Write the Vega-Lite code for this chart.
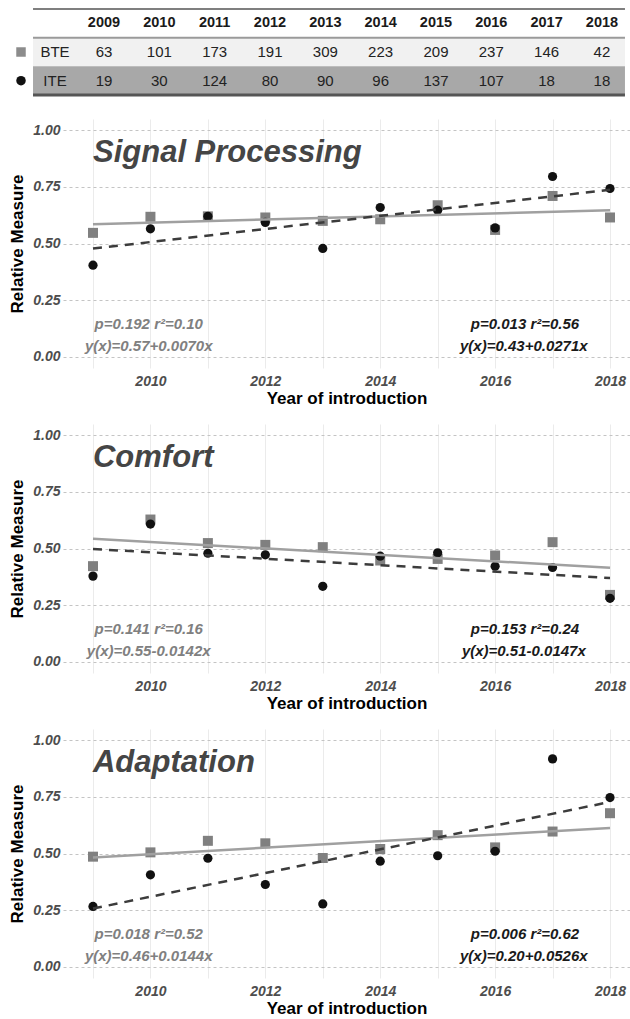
{
  "$schema": "https://vega.github.io/schema/vega-lite/v6.json",
  "padding": {"left": 8, "top": 8, "right": 0, "bottom": 0},
  "background": "#ffffff",
  "spacing": 18,
  "config": {
    "font": "Liberation Sans",
    "view": {"stroke": null},
    "axisX": {
      "labelFont": "Liberation Sans", "labelFontSize": 14, "labelFontStyle": "italic", "labelFontWeight": "bold",
      "labelColor": "#4d4d4d", "labelPadding": 6, "ticks": false, "domain": false,
      "titleFont": "Liberation Sans", "titleFontSize": 17, "titleFontWeight": "bold", "titleColor": "#000000", "titlePadding": 2,
      "gridColor": "#ebebeb", "gridWidth": 1
    },
    "axisY": {
      "labelFont": "Liberation Sans", "labelFontSize": 14, "labelFontStyle": "italic", "labelFontWeight": "bold",
      "labelColor": "#4d4d4d", "labelPadding": 3, "ticks": false, "domain": false,
      "titleFont": "Liberation Sans", "titleFontSize": 17, "titleFontWeight": "bold", "titleColor": "#000000", "titlePadding": 6
    }
  },
  "datasets": {
    "counts": [
      {"row": "BTE", "year": 2009, "n": 63}, {"row": "BTE", "year": 2010, "n": 101}, {"row": "BTE", "year": 2011, "n": 173},
      {"row": "BTE", "year": 2012, "n": 191}, {"row": "BTE", "year": 2013, "n": 309}, {"row": "BTE", "year": 2014, "n": 223},
      {"row": "BTE", "year": 2015, "n": 209}, {"row": "BTE", "year": 2016, "n": 237}, {"row": "BTE", "year": 2017, "n": 146},
      {"row": "BTE", "year": 2018, "n": 42},
      {"row": "ITE", "year": 2009, "n": 19}, {"row": "ITE", "year": 2010, "n": 30}, {"row": "ITE", "year": 2011, "n": 124},
      {"row": "ITE", "year": 2012, "n": 80}, {"row": "ITE", "year": 2013, "n": 90}, {"row": "ITE", "year": 2014, "n": 96},
      {"row": "ITE", "year": 2015, "n": 137}, {"row": "ITE", "year": 2016, "n": 107}, {"row": "ITE", "year": 2017, "n": 18},
      {"row": "ITE", "year": 2018, "n": 18}
    ],
    "pts": [
      {"panel": "Signal Processing", "group": "BTE", "year": 2009, "value": 0.547},
      {"panel": "Signal Processing", "group": "BTE", "year": 2010, "value": 0.618},
      {"panel": "Signal Processing", "group": "BTE", "year": 2011, "value": 0.620},
      {"panel": "Signal Processing", "group": "BTE", "year": 2012, "value": 0.615},
      {"panel": "Signal Processing", "group": "BTE", "year": 2013, "value": 0.600},
      {"panel": "Signal Processing", "group": "BTE", "year": 2014, "value": 0.607},
      {"panel": "Signal Processing", "group": "BTE", "year": 2015, "value": 0.669},
      {"panel": "Signal Processing", "group": "BTE", "year": 2016, "value": 0.560},
      {"panel": "Signal Processing", "group": "BTE", "year": 2017, "value": 0.710},
      {"panel": "Signal Processing", "group": "BTE", "year": 2018, "value": 0.615},
      {"panel": "Signal Processing", "group": "ITE", "year": 2009, "value": 0.404},
      {"panel": "Signal Processing", "group": "ITE", "year": 2010, "value": 0.565},
      {"panel": "Signal Processing", "group": "ITE", "year": 2011, "value": 0.620},
      {"panel": "Signal Processing", "group": "ITE", "year": 2012, "value": 0.593},
      {"panel": "Signal Processing", "group": "ITE", "year": 2013, "value": 0.478},
      {"panel": "Signal Processing", "group": "ITE", "year": 2014, "value": 0.659},
      {"panel": "Signal Processing", "group": "ITE", "year": 2015, "value": 0.647},
      {"panel": "Signal Processing", "group": "ITE", "year": 2016, "value": 0.569},
      {"panel": "Signal Processing", "group": "ITE", "year": 2017, "value": 0.796},
      {"panel": "Signal Processing", "group": "ITE", "year": 2018, "value": 0.743},
      {"panel": "Comfort", "group": "BTE", "year": 2009, "value": 0.422},
      {"panel": "Comfort", "group": "BTE", "year": 2010, "value": 0.628},
      {"panel": "Comfort", "group": "BTE", "year": 2011, "value": 0.524},
      {"panel": "Comfort", "group": "BTE", "year": 2012, "value": 0.516},
      {"panel": "Comfort", "group": "BTE", "year": 2013, "value": 0.506},
      {"panel": "Comfort", "group": "BTE", "year": 2014, "value": 0.447},
      {"panel": "Comfort", "group": "BTE", "year": 2015, "value": 0.454},
      {"panel": "Comfort", "group": "BTE", "year": 2016, "value": 0.469},
      {"panel": "Comfort", "group": "BTE", "year": 2017, "value": 0.528},
      {"panel": "Comfort", "group": "BTE", "year": 2018, "value": 0.295},
      {"panel": "Comfort", "group": "ITE", "year": 2009, "value": 0.378},
      {"panel": "Comfort", "group": "ITE", "year": 2010, "value": 0.608},
      {"panel": "Comfort", "group": "ITE", "year": 2011, "value": 0.479},
      {"panel": "Comfort", "group": "ITE", "year": 2012, "value": 0.472},
      {"panel": "Comfort", "group": "ITE", "year": 2013, "value": 0.333},
      {"panel": "Comfort", "group": "ITE", "year": 2014, "value": 0.466},
      {"panel": "Comfort", "group": "ITE", "year": 2015, "value": 0.481},
      {"panel": "Comfort", "group": "ITE", "year": 2016, "value": 0.422},
      {"panel": "Comfort", "group": "ITE", "year": 2017, "value": 0.416},
      {"panel": "Comfort", "group": "ITE", "year": 2018, "value": 0.280},
      {"panel": "Adaptation", "group": "BTE", "year": 2009, "value": 0.486},
      {"panel": "Adaptation", "group": "BTE", "year": 2010, "value": 0.505},
      {"panel": "Adaptation", "group": "BTE", "year": 2011, "value": 0.556},
      {"panel": "Adaptation", "group": "BTE", "year": 2012, "value": 0.545},
      {"panel": "Adaptation", "group": "BTE", "year": 2013, "value": 0.480},
      {"panel": "Adaptation", "group": "BTE", "year": 2014, "value": 0.520},
      {"panel": "Adaptation", "group": "BTE", "year": 2015, "value": 0.581},
      {"panel": "Adaptation", "group": "BTE", "year": 2016, "value": 0.527},
      {"panel": "Adaptation", "group": "BTE", "year": 2017, "value": 0.597},
      {"panel": "Adaptation", "group": "BTE", "year": 2018, "value": 0.678},
      {"panel": "Adaptation", "group": "ITE", "year": 2009, "value": 0.266},
      {"panel": "Adaptation", "group": "ITE", "year": 2010, "value": 0.406},
      {"panel": "Adaptation", "group": "ITE", "year": 2011, "value": 0.479},
      {"panel": "Adaptation", "group": "ITE", "year": 2012, "value": 0.363},
      {"panel": "Adaptation", "group": "ITE", "year": 2013, "value": 0.277},
      {"panel": "Adaptation", "group": "ITE", "year": 2014, "value": 0.466},
      {"panel": "Adaptation", "group": "ITE", "year": 2015, "value": 0.490},
      {"panel": "Adaptation", "group": "ITE", "year": 2016, "value": 0.510},
      {"panel": "Adaptation", "group": "ITE", "year": 2017, "value": 0.918},
      {"panel": "Adaptation", "group": "ITE", "year": 2018, "value": 0.747}
    ],
    "notes": [
      {"panel": "Signal Processing", "bte1": "p=0.192 r²=0.10", "bte2": "y(x)=0.57+0.0070x", "ite1": "p=0.013 r²=0.56", "ite2": "y(x)=0.43+0.0271x"},
      {"panel": "Comfort", "bte1": "p=0.141 r²=0.16", "bte2": "y(x)=0.55-0.0142x", "ite1": "p=0.153 r²=0.24", "ite2": "y(x)=0.51-0.0147x"},
      {"panel": "Adaptation", "bte1": "p=0.018 r²=0.52", "bte2": "y(x)=0.46+0.0144x", "ite1": "p=0.006 r²=0.62", "ite2": "y(x)=0.20+0.0526x"}
    ]
  },
  "vconcat": [
    {
      "width": 567, "height": 92,
      "layer": [
        {
          "data": {"name": "counts"},
          "transform": [{"filter": "datum.year === 2009"}],
          "mark": {"type": "rect"},
          "encoding": {
            "x": {"datum": 2007.717, "type": "quantitative", "scale": {"domain": [2008.259, 2018.507], "nice": false, "zero": false}, "axis": null},
            "x2": {"datum": 2018.416},
            "y": {"field": "row", "type": "nominal", "scale": {"domain": ["header", "BTE", "ITE"], "range": [0, 86], "paddingInner": 0, "paddingOuter": 0}, "axis": null},
            "fill": {"field": "row", "type": "nominal", "scale": {"domain": ["header", "BTE", "ITE"], "range": ["#ffffff", "#f1f1f1", "#a8a8a8"]}, "legend": null}
          }
        },
        {
          "data": {"name": "counts"},
          "transform": [{"filter": "datum.row === 'BTE'"}],
          "mark": {"type": "text", "fontSize": 14.5, "fontWeight": "bold", "color": "#1a1a1a", "baseline": "middle"},
          "encoding": {
            "x": {"field": "year", "type": "quantitative"},
            "y": {"datum": "header", "type": "nominal"},
            "text": {"field": "year", "type": "nominal"}
          }
        },
        {
          "data": {"name": "counts"},
          "mark": {"type": "text", "fontSize": 15, "color": "#222222", "baseline": "middle"},
          "encoding": {
            "x": {"field": "year", "type": "quantitative"},
            "y": {"field": "row", "type": "nominal"},
            "text": {"field": "n", "type": "quantitative"}
          }
        },
        {
          "data": {"name": "counts"},
          "transform": [{"filter": "datum.year === 2009"}],
          "mark": {"type": "text", "fontSize": 15, "color": "#222222", "baseline": "middle"},
          "encoding": {
            "x": {"datum": 2008.114, "type": "quantitative"},
            "y": {"field": "row", "type": "nominal"},
            "text": {"field": "row", "type": "nominal"}
          }
        },
        {
          "data": {"name": "counts"},
          "transform": [{"filter": "datum.year === 2009 && datum.row === 'BTE'"}],
          "mark": {"type": "point", "shape": "square", "filled": true, "opacity": 1, "color": "#8c8c8c", "size": 90},
          "encoding": {
            "x": {"datum": 2007.5, "type": "quantitative"},
            "y": {"field": "row", "type": "nominal"}
          }
        },
        {
          "data": {"name": "counts"},
          "transform": [{"filter": "datum.year === 2009 && datum.row === 'ITE'"}],
          "mark": {"type": "point", "shape": "circle", "filled": true, "opacity": 1, "color": "#111111", "size": 90},
          "encoding": {
            "x": {"datum": 2007.5, "type": "quantitative"},
            "y": {"field": "row", "type": "nominal"}
          }
        },
        {
          "data": {"name": "counts"},
          "transform": [{"filter": "datum.year === 2009 && datum.row === 'BTE'"}],
          "mark": {"type": "rule", "color": "#555555", "strokeWidth": 1.5},
          "encoding": {
            "x": {"datum": 2007.717, "type": "quantitative"}, "x2": {"datum": 2018.416},
            "y": {"datum": "header", "type": "nominal", "bandPosition": 0}
          }
        },
        {
          "data": {"name": "counts"},
          "transform": [{"filter": "datum.year === 2009 && datum.row === 'BTE'"}],
          "mark": {"type": "rule", "color": "#9a9a9a", "strokeWidth": 2},
          "encoding": {
            "x": {"datum": 2007.717, "type": "quantitative"}, "x2": {"datum": 2018.416},
            "y": {"datum": "BTE", "type": "nominal", "bandPosition": 0}
          }
        },
        {
          "data": {"name": "counts"},
          "transform": [{"filter": "datum.year === 2009 && datum.row === 'BTE'"}],
          "mark": {"type": "rule", "color": "#555555", "strokeWidth": 3},
          "encoding": {
            "x": {"datum": 2007.717, "type": "quantitative"}, "x2": {"datum": 2018.416},
            "y": {"datum": "ITE", "type": "nominal", "bandPosition": 1}
          }
        }
      ]
    },
    {
      "width": 567, "height": 249,
      "layer": [
        {"data": {"name": "pts"}, "transform": [{"filter": "datum.panel === 'Signal Processing' && datum.group === 'BTE'"}],
          "mark": {"type": "point", "shape": "square", "filled": true, "opacity": 1, "size": 100, "color": "#808080"},
          "encoding": {
            "x": {"field": "year", "type": "quantitative", "title": "Year of introduction",
              "scale": {"domain": [2008.478, 2018.348], "nice": false, "zero": false},
              "axis": {"values": [2009, 2010, 2011, 2012, 2013, 2014, 2015, 2016, 2017, 2018], "labelExpr": "datum.value % 2 === 0 ? datum.label : ''", "format": "d"}},
            "y": {"field": "value", "type": "quantitative", "title": "Relative Measure",
              "scale": {"domain": [-0.05, 1.05], "nice": false, "zero": false},
              "axis": {"values": [0, 0.125, 0.25, 0.375, 0.5, 0.625, 0.75, 0.875, 1],
                "labelExpr": "(datum.value * 8) % 2 === 0 ? format(datum.value, '.2f') : ''",
                "gridDash": {"condition": {"test": "(datum.value * 8) % 2 === 0", "value": [3, 3]}, "value": []},
                "gridColor": {"condition": {"test": "(datum.value * 8) % 2 === 0", "value": "#c4c4c4"}, "value": "#ececec"}}}
          }},
        {"data": {"name": "pts"}, "transform": [{"filter": "datum.panel === 'Signal Processing' && datum.group === 'ITE'"}],
          "mark": {"type": "point", "shape": "circle", "filled": true, "opacity": 1, "size": 85, "color": "#111111"},
          "encoding": {"x": {"field": "year", "type": "quantitative"}, "y": {"field": "value", "type": "quantitative"}}},
        {"data": {"name": "pts"}, "transform": [{"filter": "datum.panel === 'Signal Processing' && datum.group === 'BTE'"}, {"regression": "value", "on": "year"}],
          "mark": {"type": "line", "color": "#a0a0a0", "strokeWidth": 2.5},
          "encoding": {"x": {"field": "year", "type": "quantitative"}, "y": {"field": "value", "type": "quantitative"}}},
        {"data": {"name": "pts"}, "transform": [{"filter": "datum.panel === 'Signal Processing' && datum.group === 'ITE'"}, {"regression": "value", "on": "year"}],
          "mark": {"type": "line", "color": "#3c3c3c", "strokeWidth": 2.5, "strokeDash": [9, 7]},
          "encoding": {"x": {"field": "year", "type": "quantitative"}, "y": {"field": "value", "type": "quantitative"}}},
        {"data": {"name": "notes"}, "transform": [{"filter": "datum.panel === 'Signal Processing'"}],
          "mark": {"type": "text", "align": "left", "baseline": "middle", "fontSize": 31, "fontWeight": "bold", "fontStyle": "italic", "color": "#454545"},
          "encoding": {"x": {"datum": 2009, "type": "quantitative"}, "y": {"datum": 0.9, "type": "quantitative"}, "text": {"field": "panel", "type": "nominal"}}},
        {"data": {"name": "notes"}, "transform": [{"filter": "datum.panel === 'Signal Processing'"}],
          "mark": {"type": "text", "align": "center", "baseline": "middle", "fontSize": 15, "fontWeight": "bold", "fontStyle": "italic", "color": "#808080"},
          "encoding": {"x": {"datum": 2009.97, "type": "quantitative"}, "y": {"datum": 0.143, "type": "quantitative"}, "text": {"field": "bte1", "type": "nominal"}}},
        {"data": {"name": "notes"}, "transform": [{"filter": "datum.panel === 'Signal Processing'"}],
          "mark": {"type": "text", "align": "center", "baseline": "middle", "fontSize": 15, "fontWeight": "bold", "fontStyle": "italic", "color": "#808080"},
          "encoding": {"x": {"datum": 2009.97, "type": "quantitative"}, "y": {"datum": 0.047, "type": "quantitative"}, "text": {"field": "bte2", "type": "nominal"}}},
        {"data": {"name": "notes"}, "transform": [{"filter": "datum.panel === 'Signal Processing'"}],
          "mark": {"type": "text", "align": "center", "baseline": "middle", "fontSize": 15, "fontWeight": "bold", "fontStyle": "italic", "color": "#1a1a1a"},
          "encoding": {"x": {"datum": 2016.52, "type": "quantitative"}, "y": {"datum": 0.143, "type": "quantitative"}, "text": {"field": "ite1", "type": "nominal"}}},
        {"data": {"name": "notes"}, "transform": [{"filter": "datum.panel === 'Signal Processing'"}],
          "mark": {"type": "text", "align": "center", "baseline": "middle", "fontSize": 15, "fontWeight": "bold", "fontStyle": "italic", "color": "#1a1a1a"},
          "encoding": {"x": {"datum": 2016.5, "type": "quantitative"}, "y": {"datum": 0.047, "type": "quantitative"}, "text": {"field": "ite2", "type": "nominal"}}}
      ]
    },
    {
      "width": 567, "height": 249,
      "layer": [
        {"data": {"name": "pts"}, "transform": [{"filter": "datum.panel === 'Comfort' && datum.group === 'BTE'"}],
          "mark": {"type": "point", "shape": "square", "filled": true, "opacity": 1, "size": 100, "color": "#808080"},
          "encoding": {
            "x": {"field": "year", "type": "quantitative", "title": "Year of introduction",
              "scale": {"domain": [2008.478, 2018.348], "nice": false, "zero": false},
              "axis": {"values": [2009, 2010, 2011, 2012, 2013, 2014, 2015, 2016, 2017, 2018], "labelExpr": "datum.value % 2 === 0 ? datum.label : ''", "format": "d"}},
            "y": {"field": "value", "type": "quantitative", "title": "Relative Measure",
              "scale": {"domain": [-0.05, 1.05], "nice": false, "zero": false},
              "axis": {"values": [0, 0.125, 0.25, 0.375, 0.5, 0.625, 0.75, 0.875, 1],
                "labelExpr": "(datum.value * 8) % 2 === 0 ? format(datum.value, '.2f') : ''",
                "gridDash": {"condition": {"test": "(datum.value * 8) % 2 === 0", "value": [3, 3]}, "value": []},
                "gridColor": {"condition": {"test": "(datum.value * 8) % 2 === 0", "value": "#c4c4c4"}, "value": "#ececec"}}}
          }},
        {"data": {"name": "pts"}, "transform": [{"filter": "datum.panel === 'Comfort' && datum.group === 'ITE'"}],
          "mark": {"type": "point", "shape": "circle", "filled": true, "opacity": 1, "size": 85, "color": "#111111"},
          "encoding": {"x": {"field": "year", "type": "quantitative"}, "y": {"field": "value", "type": "quantitative"}}},
        {"data": {"name": "pts"}, "transform": [{"filter": "datum.panel === 'Comfort' && datum.group === 'BTE'"}, {"regression": "value", "on": "year"}],
          "mark": {"type": "line", "color": "#a0a0a0", "strokeWidth": 2.5},
          "encoding": {"x": {"field": "year", "type": "quantitative"}, "y": {"field": "value", "type": "quantitative"}}},
        {"data": {"name": "pts"}, "transform": [{"filter": "datum.panel === 'Comfort' && datum.group === 'ITE'"}, {"regression": "value", "on": "year"}],
          "mark": {"type": "line", "color": "#3c3c3c", "strokeWidth": 2.5, "strokeDash": [9, 7]},
          "encoding": {"x": {"field": "year", "type": "quantitative"}, "y": {"field": "value", "type": "quantitative"}}},
        {"data": {"name": "notes"}, "transform": [{"filter": "datum.panel === 'Comfort'"}],
          "mark": {"type": "text", "align": "left", "baseline": "middle", "fontSize": 31, "fontWeight": "bold", "fontStyle": "italic", "color": "#454545"},
          "encoding": {"x": {"datum": 2009, "type": "quantitative"}, "y": {"datum": 0.9, "type": "quantitative"}, "text": {"field": "panel", "type": "nominal"}}},
        {"data": {"name": "notes"}, "transform": [{"filter": "datum.panel === 'Comfort'"}],
          "mark": {"type": "text", "align": "center", "baseline": "middle", "fontSize": 15, "fontWeight": "bold", "fontStyle": "italic", "color": "#808080"},
          "encoding": {"x": {"datum": 2009.97, "type": "quantitative"}, "y": {"datum": 0.143, "type": "quantitative"}, "text": {"field": "bte1", "type": "nominal"}}},
        {"data": {"name": "notes"}, "transform": [{"filter": "datum.panel === 'Comfort'"}],
          "mark": {"type": "text", "align": "center", "baseline": "middle", "fontSize": 15, "fontWeight": "bold", "fontStyle": "italic", "color": "#808080"},
          "encoding": {"x": {"datum": 2009.97, "type": "quantitative"}, "y": {"datum": 0.047, "type": "quantitative"}, "text": {"field": "bte2", "type": "nominal"}}},
        {"data": {"name": "notes"}, "transform": [{"filter": "datum.panel === 'Comfort'"}],
          "mark": {"type": "text", "align": "center", "baseline": "middle", "fontSize": 15, "fontWeight": "bold", "fontStyle": "italic", "color": "#1a1a1a"},
          "encoding": {"x": {"datum": 2016.52, "type": "quantitative"}, "y": {"datum": 0.143, "type": "quantitative"}, "text": {"field": "ite1", "type": "nominal"}}},
        {"data": {"name": "notes"}, "transform": [{"filter": "datum.panel === 'Comfort'"}],
          "mark": {"type": "text", "align": "center", "baseline": "middle", "fontSize": 15, "fontWeight": "bold", "fontStyle": "italic", "color": "#1a1a1a"},
          "encoding": {"x": {"datum": 2016.5, "type": "quantitative"}, "y": {"datum": 0.047, "type": "quantitative"}, "text": {"field": "ite2", "type": "nominal"}}}
      ]
    },
    {
      "width": 567, "height": 249,
      "layer": [
        {"data": {"name": "pts"}, "transform": [{"filter": "datum.panel === 'Adaptation' && datum.group === 'BTE'"}],
          "mark": {"type": "point", "shape": "square", "filled": true, "opacity": 1, "size": 100, "color": "#808080"},
          "encoding": {
            "x": {"field": "year", "type": "quantitative", "title": "Year of introduction",
              "scale": {"domain": [2008.478, 2018.348], "nice": false, "zero": false},
              "axis": {"values": [2009, 2010, 2011, 2012, 2013, 2014, 2015, 2016, 2017, 2018], "labelExpr": "datum.value % 2 === 0 ? datum.label : ''", "format": "d"}},
            "y": {"field": "value", "type": "quantitative", "title": "Relative Measure",
              "scale": {"domain": [-0.05, 1.05], "nice": false, "zero": false},
              "axis": {"values": [0, 0.125, 0.25, 0.375, 0.5, 0.625, 0.75, 0.875, 1],
                "labelExpr": "(datum.value * 8) % 2 === 0 ? format(datum.value, '.2f') : ''",
                "gridDash": {"condition": {"test": "(datum.value * 8) % 2 === 0", "value": [3, 3]}, "value": []},
                "gridColor": {"condition": {"test": "(datum.value * 8) % 2 === 0", "value": "#c4c4c4"}, "value": "#ececec"}}}
          }},
        {"data": {"name": "pts"}, "transform": [{"filter": "datum.panel === 'Adaptation' && datum.group === 'ITE'"}],
          "mark": {"type": "point", "shape": "circle", "filled": true, "opacity": 1, "size": 85, "color": "#111111"},
          "encoding": {"x": {"field": "year", "type": "quantitative"}, "y": {"field": "value", "type": "quantitative"}}},
        {"data": {"name": "pts"}, "transform": [{"filter": "datum.panel === 'Adaptation' && datum.group === 'BTE'"}, {"regression": "value", "on": "year"}],
          "mark": {"type": "line", "color": "#a0a0a0", "strokeWidth": 2.5},
          "encoding": {"x": {"field": "year", "type": "quantitative"}, "y": {"field": "value", "type": "quantitative"}}},
        {"data": {"name": "pts"}, "transform": [{"filter": "datum.panel === 'Adaptation' && datum.group === 'ITE'"}, {"regression": "value", "on": "year"}],
          "mark": {"type": "line", "color": "#3c3c3c", "strokeWidth": 2.5, "strokeDash": [9, 7]},
          "encoding": {"x": {"field": "year", "type": "quantitative"}, "y": {"field": "value", "type": "quantitative"}}},
        {"data": {"name": "notes"}, "transform": [{"filter": "datum.panel === 'Adaptation'"}],
          "mark": {"type": "text", "align": "left", "baseline": "middle", "fontSize": 31, "fontWeight": "bold", "fontStyle": "italic", "color": "#454545"},
          "encoding": {"x": {"datum": 2009, "type": "quantitative"}, "y": {"datum": 0.9, "type": "quantitative"}, "text": {"field": "panel", "type": "nominal"}}},
        {"data": {"name": "notes"}, "transform": [{"filter": "datum.panel === 'Adaptation'"}],
          "mark": {"type": "text", "align": "center", "baseline": "middle", "fontSize": 15, "fontWeight": "bold", "fontStyle": "italic", "color": "#808080"},
          "encoding": {"x": {"datum": 2009.97, "type": "quantitative"}, "y": {"datum": 0.143, "type": "quantitative"}, "text": {"field": "bte1", "type": "nominal"}}},
        {"data": {"name": "notes"}, "transform": [{"filter": "datum.panel === 'Adaptation'"}],
          "mark": {"type": "text", "align": "center", "baseline": "middle", "fontSize": 15, "fontWeight": "bold", "fontStyle": "italic", "color": "#808080"},
          "encoding": {"x": {"datum": 2009.97, "type": "quantitative"}, "y": {"datum": 0.047, "type": "quantitative"}, "text": {"field": "bte2", "type": "nominal"}}},
        {"data": {"name": "notes"}, "transform": [{"filter": "datum.panel === 'Adaptation'"}],
          "mark": {"type": "text", "align": "center", "baseline": "middle", "fontSize": 15, "fontWeight": "bold", "fontStyle": "italic", "color": "#1a1a1a"},
          "encoding": {"x": {"datum": 2016.52, "type": "quantitative"}, "y": {"datum": 0.143, "type": "quantitative"}, "text": {"field": "ite1", "type": "nominal"}}},
        {"data": {"name": "notes"}, "transform": [{"filter": "datum.panel === 'Adaptation'"}],
          "mark": {"type": "text", "align": "center", "baseline": "middle", "fontSize": 15, "fontWeight": "bold", "fontStyle": "italic", "color": "#1a1a1a"},
          "encoding": {"x": {"datum": 2016.5, "type": "quantitative"}, "y": {"datum": 0.047, "type": "quantitative"}, "text": {"field": "ite2", "type": "nominal"}}}
      ]
    }
  ]
}
